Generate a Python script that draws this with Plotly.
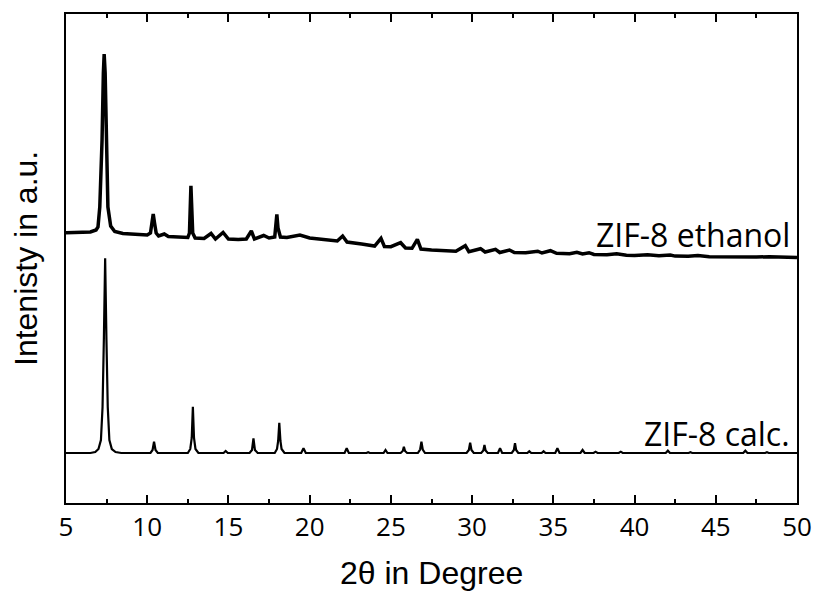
import plotly.graph_objects as go

# ---------------- data (intensity in a.u.) ----------------
# Experimental pattern: ZIF-8 ethanol
eth_2theta = [
    5.0, 5.5, 6.0, 6.5, 6.85, 6.97, 7.08, 7.22, 7.30, 7.35, 7.41, 7.47, 7.58, 7.75, 8.0,
    8.5, 9.0, 9.5, 10.0, 10.2, 10.3, 10.37, 10.45, 10.55, 10.7, 11.05, 11.3, 12.0, 12.5,
    12.6, 12.66, 12.69, 12.73, 12.8, 12.95, 13.5, 13.93, 14.2, 14.67, 15.0, 15.6, 16.1,
    16.41, 16.6, 17.17, 17.5, 17.85, 17.93, 17.98, 18.05, 18.2, 18.6, 19.4, 20.0, 20.95,
    21.7, 22.03, 22.3, 23.2, 24.0, 24.39, 24.6, 25.0, 25.6, 25.9, 26.3, 26.63, 26.85,
    27.5, 28.1, 29.0, 29.58, 29.8, 30.52, 30.8, 31.44, 31.7, 32.3, 32.6, 33.3, 34.04,
    34.3, 34.82, 35.2, 36.0, 36.45, 36.8, 37.2, 37.5, 38.3, 38.9, 39.5, 40.0, 40.8,
    41.5, 42.2, 42.5, 43.3, 43.9, 44.6, 45.0, 45.8, 46.5, 47.5, 48.3, 49.0, 50.0,
]
eth_intensity = [
    270.3, 270.5, 270.0, 271.0, 273.0, 276.0, 296.0, 363.0, 430.0, 449.0, 430.0, 363.0, 296.0, 277.0, 271.5,
    269.5, 269.0, 268.5, 268.0, 270.0, 280.0, 289.0, 280.0, 270.0, 267.0, 269.0, 266.5, 266.0, 265.5,
    270.0, 300.0, 317.3, 300.0, 270.0, 265.0, 264.5, 269.5, 264.0, 270.5, 264.0, 263.5, 264.0,
    272.0, 264.0, 267.5, 265.0, 266.0, 280.0, 288.7, 275.0, 266.0, 265.5, 268.0, 265.0, 263.0,
    262.0, 267.0, 261.0, 259.0, 257.0, 264.7, 256.5, 256.3, 260.3, 255.0, 254.7, 263.7, 254.0,
    253.0, 252.3, 251.8, 257.3, 251.3, 254.3, 251.0, 253.7, 250.5, 253.0, 250.5, 250.3, 251.8,
    250.0, 252.3, 249.7, 249.3, 250.7, 249.0, 250.3, 248.5, 248.3, 249.3, 247.8, 247.6, 248.3,
    247.3, 248.0, 246.9, 246.7, 247.5, 246.3, 246.2, 246.6, 246.0, 245.9, 246.3, 245.8, 245.5,
]

# Calculated pattern: ZIF-8 calc.
calc_2theta = [
    5.0, 6.5, 6.8, 7.0, 7.15, 7.25, 7.33, 7.41, 7.49, 7.57, 7.67, 7.82, 8.05, 8.4,
    10.2, 10.33, 10.42, 10.51, 10.65,
    12.5, 12.65, 12.74, 12.81, 12.88, 12.97, 13.15,
    14.7, 14.83, 14.96,
    16.3, 16.45, 16.54, 16.63, 16.8,
    17.85, 17.99, 18.06, 18.13, 18.2, 18.27, 18.45,
    19.48, 19.62, 19.76,
    22.15, 22.28, 22.41,
    23.5, 23.6, 23.7,
    24.55, 24.67, 24.79,
    25.6, 25.73, 25.8, 25.87, 26.0,
    26.66, 26.8, 26.88, 26.96, 27.1,
    29.66, 29.8, 29.88, 29.96, 30.1,
    30.56, 30.69, 30.76, 30.83, 30.96,
    31.59, 31.72, 31.85,
    32.44, 32.57, 32.64, 32.71, 32.84,
    33.4, 33.52, 33.64,
    34.28, 34.4, 34.52,
    35.12, 35.25, 35.38,
    36.67, 36.8, 36.93,
    37.48, 37.6, 37.72,
    39.03, 39.15, 39.27,
    39.86, 39.97, 40.08,
    41.92, 42.05, 42.18,
    43.33, 43.44, 43.55,
    44.66, 44.77, 44.88,
    45.99, 46.1, 46.21,
    46.69, 46.82, 46.95,
    48.04, 48.15, 48.26,
    50.0,
]
calc_intensity = [
    50.0, 50.0, 51.0, 54.0, 63.0, 96.0, 163.0, 244.7, 163.0, 96.0, 63.0, 54.0, 51.0, 50.0,
    50.0, 53.0, 61.3, 53.0, 50.0,
    50.0, 54.0, 65.0, 96.3, 65.0, 54.0, 50.0,
    50.0, 52.0, 50.0,
    50.0, 53.0, 64.7, 53.0, 50.0,
    50.0, 54.0, 62.0, 80.3, 62.0, 54.0, 50.0,
    50.0, 54.7, 50.0,
    50.0, 54.7, 50.0,
    50.0, 50.8, 50.0,
    50.0, 53.0, 50.0,
    50.0, 52.0, 56.3, 52.0, 50.0,
    50.0, 53.5, 61.3, 53.5, 50.0,
    50.0, 53.0, 60.3, 53.0, 50.0,
    50.0, 52.5, 58.0, 52.5, 50.0,
    50.0, 54.7, 50.0,
    50.0, 53.0, 59.7, 53.0, 50.0,
    50.0, 51.7, 50.0,
    50.0, 51.7, 50.0,
    50.0, 54.7, 50.0,
    50.0, 53.0, 50.0,
    50.0, 51.3, 50.0,
    50.0, 51.3, 50.0,
    50.0, 50.7, 50.0,
    50.0, 52.3, 50.0,
    50.0, 50.7, 50.0,
    50.0, 50.7, 50.0,
    50.0, 50.7, 50.0,
    50.0, 52.3, 50.0,
    50.0, 50.7, 50.0,
    50.0,
]

x_ticks = [5, 10, 15, 20, 25, 30, 35, 40, 45, 50]
series_labels = ["ZIF-8 ethanol", "ZIF-8 calc."]
x_title = "2θ in Degree"
y_title = "Intenisty in a.u."

# ---------------- figure ----------------
fig = go.Figure()
fig.add_trace(go.Scatter(x=eth_2theta, y=eth_intensity, mode="lines",
                         line=dict(color="black", width=3.5), name=series_labels[0],
                         showlegend=False))
fig.add_trace(go.Scatter(x=calc_2theta, y=calc_intensity, mode="lines",
                         line=dict(color="black", width=2.2), name=series_labels[1],
                         showlegend=False))

tick_font = dict(family="Open Sans", size=26, color="black")
title_font = dict(family="Liberation Sans", size=32, color="black")
label_font = dict(family="Open Sans", size=32, color="black")

W, H = 817, 594
L, R, T, B = 66, 20, 14, 91
PH = H - T - B
PW = W - L - R

fig.update_layout(
    width=W, height=H,
    margin=dict(l=L, r=R, t=T, b=B, autoexpand=False),
    paper_bgcolor="white", plot_bgcolor="white",
    xaxis=dict(
        range=[5, 50], tickvals=x_ticks, ticktext=[str(v) for v in x_ticks],
        ticks="inside", ticklen=8, tickwidth=2, tickcolor="black",
        showline=True, linewidth=2, linecolor="black", mirror="ticks",
        showgrid=False, zeroline=False, tickfont=tick_font, automargin=False,
        minor=dict(dtick=2.5, tick0=5, ticks="inside", ticklen=4, tickwidth=2,
                   tickcolor="black", showgrid=False),
    ),
    yaxis=dict(
        range=[0, 489], showticklabels=False, ticks="",
        showline=True, linewidth=2, linecolor="black", mirror=True,
        showgrid=False, zeroline=False, automargin=False,
    ),
    annotations=[
        dict(text=series_labels[0], xref="paper", yref="paper", x=1, y=(H - B - 234) / PH,
             xanchor="right", yanchor="middle", xshift=-5, showarrow=False, font=label_font),
        dict(text=series_labels[1], xref="paper", yref="paper", x=1, y=(H - B - 433) / PH,
             xanchor="right", yanchor="middle", xshift=-5, showarrow=False, font=label_font),
        dict(text=x_title, xref="paper", yref="paper", x=(431 - L) / PW, y=(H - B - 593) / PH,
             xanchor="center", yanchor="bottom", showarrow=False, font=title_font),
        dict(text=y_title, xref="paper", yref="paper", x=(26 - L) / PW, y=(H - B - 259) / PH,
             xanchor="center", yanchor="middle", textangle=-90, showarrow=False, font=title_font),
    ],
)

fig.write_html("out.html", config={"displayModeBar": False},
               post_script="document.body.style.margin='0';document.body.style.padding='0';")
